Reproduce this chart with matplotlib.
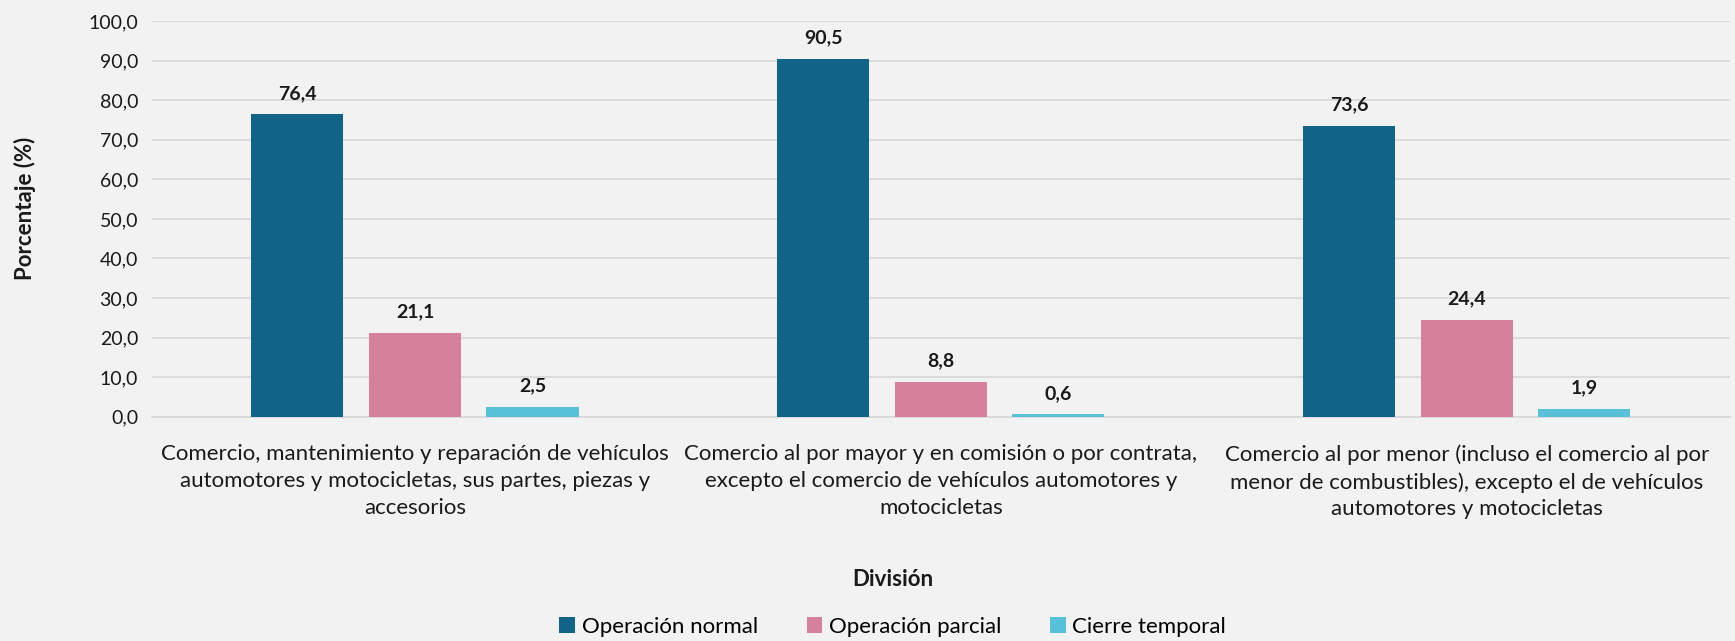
import matplotlib
matplotlib.use("Agg")
import matplotlib.pyplot as plt
import numpy as np
from matplotlib.ticker import FuncFormatter

plt.rcParams['font.family'] = ['Lato', 'DejaVu Sans']

categories = [
    "Comercio, mantenimiento y reparación de vehículos\nautomotores y motocicletas, sus partes, piezas y\naccesorios",
    "Comercio al por mayor y en comisión o por contrata,\nexcepto el comercio de vehículos automotores y\nmotocicletas",
    "Comercio al por menor (incluso el comercio al por\nmenor de combustibles), excepto el de vehículos\nautomotores y motocicletas",
]
series_names = ["Operación normal", "Operación parcial", "Cierre temporal"]
operacion_normal = [76.4, 90.5, 73.6]
operacion_parcial = [21.1, 8.8, 24.4]
cierre_temporal = [2.5, 0.6, 1.9]
colors = ["#116487", "#D6819C", "#56C1D8"]

bg = "#F2F2F2"
txt = "#1a1a1a"
fig = plt.figure(figsize=(17.35, 6.41), dpi=100, facecolor=bg)
ax = fig.add_axes([0.0876, 0.350, 0.9094, 0.617], facecolor=bg)

x = np.arange(len(categories))
width = 0.175
step = 0.2235
all_series = [operacion_normal, operacion_parcial, cierre_temporal]
for i, (vals, name, c) in enumerate(zip(all_series, series_names, colors)):
    bars = ax.bar(x + (i - 1) * step, vals, width, color=c, label=name, zorder=3)
    for b, v in zip(bars, vals):
        ax.annotate(f"{v:.1f}".replace(".", ","),
                    (b.get_x() + b.get_width() / 2, v),
                    xytext=(0, 9), textcoords="offset points",
                    ha="center", va="bottom", fontsize=14, fontweight="bold",
                    color=txt)

ax.set_xlim(-0.5, 2.5)
ax.set_ylim(0, 100)
ax.set_yticks(np.arange(0, 101, 10))
ax.yaxis.set_major_formatter(FuncFormatter(lambda v, p: f"{v:.1f}".replace(".", ",")))
ax.grid(axis="y", color="#D9D9D9", linewidth=1.3, zorder=0)
for s in ["top", "right", "left"]:
    ax.spines[s].set_visible(False)
ax.spines["bottom"].set_color("#D9D9D9")
ax.spines["bottom"].set_linewidth(1.3)
ax.tick_params(axis="y", length=0, labelsize=14, colors=txt, pad=10)
ax.set_xticks(x)
ax.set_xticklabels(categories, fontsize=16, linespacing=1.42)
ax.tick_params(axis="x", length=0, colors=txt, pad=20)

fig.text(25 / 1735, 1 - 208 / 641, "Porcentaje (%)", rotation=90, ha="center", va="center",
         fontsize=16, fontweight="bold", color=txt)
fig.text(0.5146, 1 - 579 / 641, "División", ha="center", va="center",
         fontsize=16, fontweight="bold", color=txt)

fig.legend(loc="center", bbox_to_anchor=(0.5146, 1 - 627 / 641), ncol=3,
           frameon=False, fontsize=16, handlelength=0.7, handleheight=0.7,
           handletextpad=0.3, columnspacing=2.2)

fig.savefig("out.png", dpi=100, facecolor=bg)
